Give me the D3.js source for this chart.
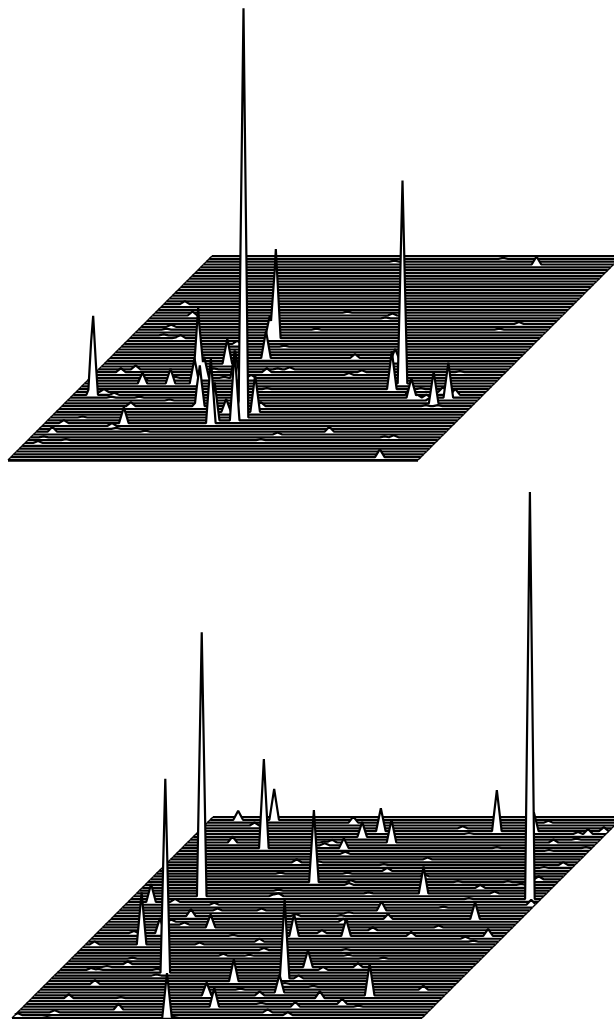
<!DOCTYPE html>
<html><head><meta charset="utf-8"><style>html,body{margin:0;padding:0;background:#fff;overflow:hidden}svg{display:block}</style>
<script src="https://cdn.jsdelivr.net/npm/d3@7"></script></head><body><svg id="c" width="614" height="1019"></svg>
<script>
// Sparse surface values: [row (0 = front), column, value]
const surfaceTop = [
[15,193,406],[27,318,203],[43,146,89],[23,20,72],[23,18,12],[29,108,70],[27,110,25],[29,114,21],[13,166,65],[19,138,39],[14,167,38],[34,123,25],[14,187,70],[29,145,27],[17,170,13],[15,189,20],[17,199,37],[36,156,27],[43,140,23],[27,86,15],[13,79,16],[27,58,11],[25,313,38],[35,288,12],[22,341,20],[20,369,32],[22,378,35],[22,347,3],[22,356,3],[24,367,5],[23,382,6],[23,337,8],[21,363,3],[69,333,8],
[1,369,8],
[55,21,3],[51,40,4],[47,30,2],[46,28,1],[44,31,1],[43,51,3],[43,47,1],[31,25,4],[32,37,4],[28,56,4],[24,28,3],[22,41,1],[23,41,2],[19,69,4],[22,69,1],[21,102,1],[12,70,3],[11,77,1],[10,109,1],[13,19,3],[10,16,5],[8,13,1],[7,38,1],[6,13,2],[15,32,1],[19,135,5],[29,85,1],[41,113,3],[40,163,1],[31,171,4],[32,191,2],[32,179,1],[29,161,3],[29,134,1],[32,115,1],[25,188,1],[19,199,4],[51,240,2],[50,236,1],[48,375,2],[46,361,1],[31,364,1],[25,342,1],[19,364,1],[19,376,1],[8,363,2],[8,354,1],[71,294,1],[70,188,1],[10,293,5],[36,245,4],[30,256,2],[31,266,2],[52,192,1],[46,178,1],[9,244,2],[7,233,1]
];
const surfaceBottom = [
[42,399,407],[43,68,264],[16,108,194],[0,155,45],[60,82,89],[70,64,31],[48,166,72],[66,298,41],[26,56,52],[14,233,79],[8,335,32],[29,200,22],[29,252,17],[18,245,17],[13,185,22],[9,242,18],[8,172,13],[4,191,19],[41,23,18],[32,108,13],[30,63,15],[36,77,7],[38,262,9],[35,277,5],[44,287,27],[35,364,17],[29,394,7],[66,182,23],[62,204,23],[64,169,15],[60,162,10],[69,146,6],[70,28,9],[62,45,6],[66,335,19],[65,392,5],[66,405,4],[40,406,5],
[41,47,3],[40,89,2],[38,98,2],[38,142,2],[47,204,2],[44,232,1],[43,140,2],[43,145,3],[34,63,2],[33,79,2],[34,235,3],[31,273,3],[30,225,3],[26,114,2],[27,171,3],[24,184,2],[18,295,4],[17,263,3],[14,247,3],[10,200,1],[8,225,4],[7,288,7],[5,316,5],[4,272,5],[2,250,3],[1,273,3],[5,235,1],[11,270,1],[12,239,1],[15,102,1],[4,335,1],[36,182,2],[36,227,1],[37,232,1],[22,149,2],[22,175,1],[21,61,1],[24,266,1],[22,274,1],[21,312,1],[30,37,2],[26,9,3],[19,62,3],[17,31,2],[17,38,1],[18,44,1],[12,49,4],[17,97,1],[7,37,4],[7,89,1],[3,98,6],[2,37,2],[1,3,2],[0,35,1],[0,162,1],[29,139,1],[68,50,3],[55,129,3],[51,124,1],[55,150,1],[62,137,1],[62,143,1],[61,140,2],[58,169,2],[51,191,1],[48,203,2],[52,228,3],[54,219,1],[45,139,1],[67,261,2],[60,315,1],[59,370,1],[54,399,1],[46,338,3],[44,358,2],[48,360,1],[48,310,1],[32,336,2],[28,374,2],[27,385,1],[29,317,4],[10,383,4],[39,321,1],[65,273,1],[42,338,1],[50,271,2],[56,257,2],[62,145,2],[69,341,2],[65,382,2],[62,366,3],[63,386,1],[60,404,1],[54,398,2],[53,382,1],[49,388,3],[47,376,1]
];
const columnExtent = [0, 410];
const peakHalfWidth = 4.8;

function drawSurface(values, lastRow, left, front, back) {
  const svg = d3.select("#c");
  const xs = d3.scaleLinear().domain(columnExtent).range([0, 410]);
  const rowY = d3.scaleLinear().domain([0, lastRow]).range([front, back]);
  const rowX = d3.scaleLinear().domain([0, lastRow]).range([left, left + (front - back)]);
  const hs = d3.scaleLinear().domain([0, 1]).range([0, 1]);
  const byRow = d3.group(values, d => d[0]);
  const g = svg.append("g");
  for (const row of d3.range(lastRow, -1, -1)) {
    const peaks = byRow.get(row) || [];
    const cols = new Set(columnExtent);
    peaks.forEach(p => [p[1] - peakHalfWidth, p[1], p[1] + peakHalfWidth].forEach(c => cols.add(Math.max(0, Math.min(410, c)))));
    const pts = [...cols].sort(d3.ascending).map(c => [c, d3.sum(peaks, p => p[2] * Math.max(0, 1 - Math.abs(c - p[1]) / peakHalfWidth))]);
    const off = rowX(row), base = rowY(row);
    const X = c => off + xs(c), Y = v => base - hs(v);
    g.append("path").attr("d", d3.area().x(d => X(d[0])).y0(base).y1(d => Y(d[1]))(pts)).attr("fill", "#fff");
    g.append("path").attr("d", d3.line().x(d => X(d[0])).y(d => Y(d[1]))(pts))
      .attr("fill", "none").attr("stroke", "#000").attr("stroke-width", 2.2).attr("stroke-linejoin", "bevel");
    if (row < lastRow) {
      columnExtent.forEach(c => g.append("line")
        .attr("x1", rowX(row + 1) + xs(c)).attr("y1", rowY(row + 1))
        .attr("x2", off + xs(c)).attr("y2", base)
        .attr("stroke", "#000").attr("stroke-width", 1.4));
    }
    if (row === 0) {
      g.append("line").attr("x1", off).attr("x2", off + xs(columnExtent[1])).attr("y1", base + 0.8).attr("y2", base + 0.8)
        .attr("stroke", "#000").attr("stroke-width", 2);
    }
  }
}
drawSurface(surfaceTop, 72, 8, 460, 256);
drawSurface(surfaceBottom, 71, 12, 1018, 817);
</script></body></html>
